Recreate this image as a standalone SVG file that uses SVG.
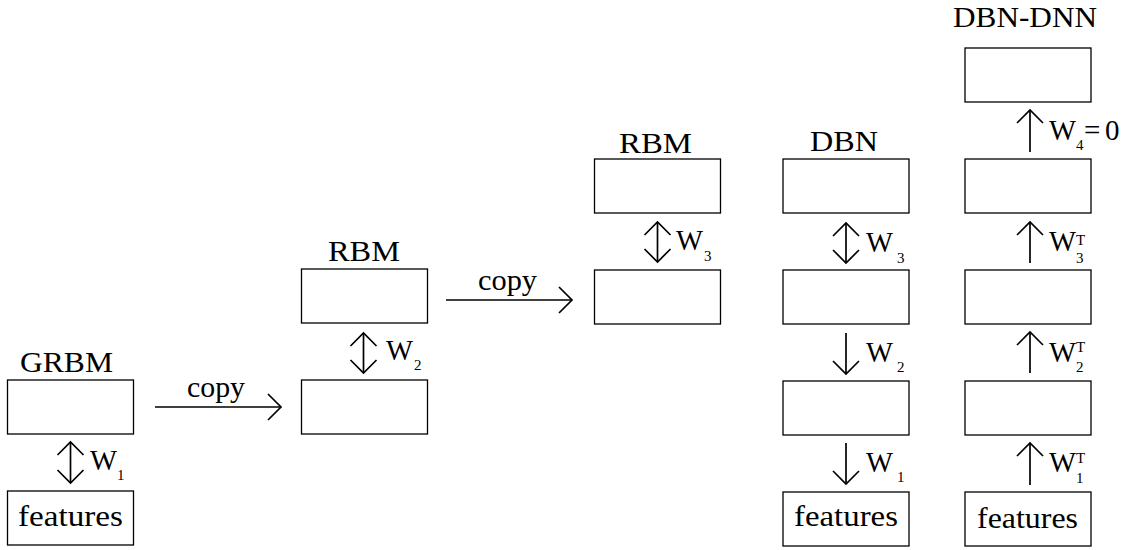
<svg xmlns="http://www.w3.org/2000/svg" width="1146" height="550" viewBox="0 0 1146 550">
  <style>
    .box { fill: #fff; stroke: #000; stroke-width: 1.3; }
    .lbl { font-family: "Liberation Serif", "DejaVu Serif", serif; font-size: 29px; fill: #000; }
    .idx { font-family: "Liberation Serif", "DejaVu Serif", serif; font-size: 15px; fill: #000; }
    .arr { fill: none; stroke: #000; stroke-width: 1.7; }
  </style>
  <defs>
    <marker id="head" markerUnits="userSpaceOnUse" markerWidth="30" markerHeight="30" viewBox="-15 -15 30 30" refX="0" refY="0" orient="auto-start-reverse">
      <path d="M -13 -13 L 0 0 L -13 13" fill="none" stroke="#000" stroke-width="1.7"/>
    </marker>
  </defs>

  <rect width="1146" height="550" fill="#fff"/>

  <!-- GRBM stack -->
  <g id="grbm">
    <text class="lbl" x="20" y="372" textLength="93" lengthAdjust="spacingAndGlyphs">GRBM</text>
    <rect class="box" x="7.5" y="380" width="126" height="54"/>
  </g>
  <g id="grbm-features">
    <rect class="box" x="7.5" y="491" width="126" height="54"/>
    <text class="lbl" x="18" y="526" textLength="105" lengthAdjust="spacingAndGlyphs">features</text>
  </g>

  <!-- second RBM stage -->
  <g id="rbm2-hidden">
    <text class="lbl" x="328" y="261" textLength="72" lengthAdjust="spacingAndGlyphs">RBM</text>
    <rect class="box" x="301.5" y="269" width="126" height="54"/>
  </g>
  <g id="rbm2-visible">
    <rect class="box" x="301.5" y="380" width="126" height="54"/>
  </g>

  <!-- third RBM stage -->
  <g id="rbm3-hidden">
    <text class="lbl" x="619" y="153" textLength="73" lengthAdjust="spacingAndGlyphs">RBM</text>
    <rect class="box" x="594.5" y="159" width="126" height="54"/>
  </g>
  <g id="rbm3-visible">
    <rect class="box" x="594.5" y="270" width="126" height="54"/>
  </g>

  <!-- DBN stack -->
  <g id="dbn-h3">
    <text class="lbl" x="810" y="151" textLength="68" lengthAdjust="spacingAndGlyphs">DBN</text>
    <rect class="box" x="783" y="159" width="126" height="54"/>
  </g>
  <g id="dbn-h2"><rect class="box" x="783" y="270" width="126" height="54"/></g>
  <g id="dbn-h1"><rect class="box" x="783" y="381" width="126" height="54"/></g>
  <g id="dbn-features">
    <rect class="box" x="783" y="492" width="126" height="54"/>
    <text class="lbl" x="794" y="526" textLength="104" lengthAdjust="spacingAndGlyphs">features</text>
  </g>

  <!-- DBN-DNN stack -->
  <g id="dnn-out">
    <text class="lbl" x="953" y="27" textLength="144" lengthAdjust="spacingAndGlyphs">DBN-DNN</text>
    <rect class="box" x="965" y="48" width="126" height="54"/>
  </g>
  <g id="dnn-h3"><rect class="box" x="965" y="159" width="126" height="54"/></g>
  <g id="dnn-h2"><rect class="box" x="965" y="270" width="126" height="54"/></g>
  <g id="dnn-h1"><rect class="box" x="965" y="381" width="126" height="54"/></g>
  <g id="dnn-features">
    <rect class="box" x="965" y="492" width="126" height="54"/>
    <text class="lbl" x="977" y="528" textLength="101" lengthAdjust="spacingAndGlyphs">features</text>
  </g>

  <!-- connectors -->
  <g id="connectors">
    <!-- copy steps -->
    <line class="arr" x1="155" y1="407" x2="281" y2="407" marker-end="url(#head)"/>
    <text class="lbl" x="187" y="397" textLength="58" lengthAdjust="spacingAndGlyphs">copy</text>
    <line class="arr" x1="446" y1="300" x2="572" y2="300" marker-end="url(#head)"/>
    <text class="lbl" x="478" y="290" textLength="59" lengthAdjust="spacingAndGlyphs">copy</text>

    <!-- undirected RBM weights -->
    <line class="arr" x1="70.5" y1="442" x2="70.5" y2="483" marker-start="url(#head)" marker-end="url(#head)"/>
    <text class="lbl" x="90" y="470" textLength="27" lengthAdjust="spacingAndGlyphs">W</text>
    <text class="idx" x="117" y="480">1</text>

    <line class="arr" x1="363.5" y1="333" x2="363.5" y2="373" marker-start="url(#head)" marker-end="url(#head)"/>
    <text class="lbl" x="386" y="360" textLength="27" lengthAdjust="spacingAndGlyphs">W</text>
    <text class="idx" x="414" y="370">2</text>

    <line class="arr" x1="657.5" y1="222" x2="657.5" y2="262" marker-start="url(#head)" marker-end="url(#head)"/>
    <text class="lbl" x="676" y="250" textLength="27" lengthAdjust="spacingAndGlyphs">W</text>
    <text class="idx" x="704" y="261">3</text>

    <!-- DBN weights -->
    <line class="arr" x1="846" y1="223" x2="846" y2="263" marker-start="url(#head)" marker-end="url(#head)"/>
    <text class="lbl" x="866" y="252" textLength="27" lengthAdjust="spacingAndGlyphs">W</text>
    <text class="idx" x="897" y="263">3</text>

    <line class="arr" x1="846" y1="333" x2="846" y2="374" marker-end="url(#head)"/>
    <text class="lbl" x="866" y="362" textLength="27" lengthAdjust="spacingAndGlyphs">W</text>
    <text class="idx" x="897" y="372">2</text>

    <line class="arr" x1="846" y1="443" x2="846" y2="484" marker-end="url(#head)"/>
    <text class="lbl" x="866" y="472" textLength="27" lengthAdjust="spacingAndGlyphs">W</text>
    <text class="idx" x="897" y="482">1</text>

    <!-- DBN-DNN weights -->
    <line class="arr" x1="1030" y1="152" x2="1030" y2="110" marker-end="url(#head)"/>
    <text class="lbl" x="1049" y="140" textLength="27" lengthAdjust="spacingAndGlyphs">W</text>
    <text class="idx" x="1076" y="150">4</text>
    <text class="lbl" x="1084" y="140">=</text>
    <text class="lbl" x="1105" y="140">0</text>

    <line class="arr" x1="1030" y1="263" x2="1030" y2="222" marker-end="url(#head)"/>
    <text class="lbl" x="1049" y="251" textLength="27" lengthAdjust="spacingAndGlyphs">W</text>
    <text class="idx" x="1076" y="245">T</text>
    <text class="idx" x="1076" y="263">3</text>

    <line class="arr" x1="1030" y1="373" x2="1030" y2="332" marker-end="url(#head)"/>
    <text class="lbl" x="1049" y="362" textLength="27" lengthAdjust="spacingAndGlyphs">W</text>
    <text class="idx" x="1076" y="352">T</text>
    <text class="idx" x="1076" y="372">2</text>

    <line class="arr" x1="1030" y1="485" x2="1030" y2="443" marker-end="url(#head)"/>
    <text class="lbl" x="1049" y="472" textLength="27" lengthAdjust="spacingAndGlyphs">W</text>
    <text class="idx" x="1076" y="463">T</text>
    <text class="idx" x="1076" y="483">1</text>
  </g>
</svg>
